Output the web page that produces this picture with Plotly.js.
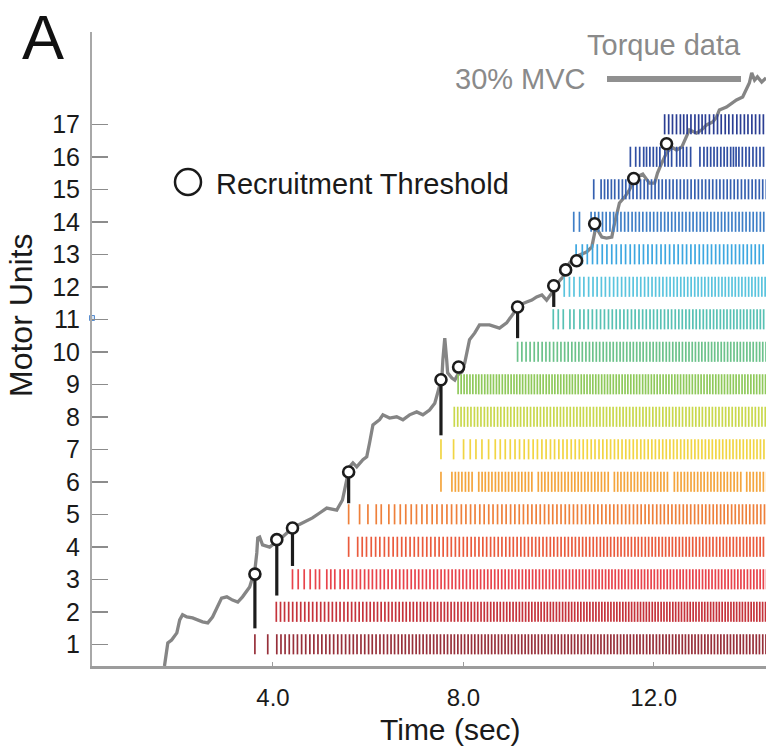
<!DOCTYPE html>
<html><head><meta charset="utf-8">
<script src="https://cdn.plot.ly/plotly-3.0.1.min.js"></script>
<style>html,body{margin:0;padding:0;background:#fff}#chart{width:766px;height:748px}</style>
</head><body><div id="chart"></div>
<script>
// ---------- DATA ----------
const unitLabels = [1,2,3,4,5,6,7,8,9,10,11,12,13,14,15,16,17];
// time (s) of first discharge of each motor unit
const unitStart = [3.62,4.07,4.41,5.59,5.59,7.53,7.53,7.81,7.89,9.14,9.89,10.12,10.37,10.32,10.74,11.51,12.23];
// inter-spike intervals (ms) per motor unit, read from the raster
const isiU1 = [270,190,88,86,88,87,85,88,86,87, 84,86,82,85,80,83,86,81,84,82, 80,78,83,79,81,77,80,82,78,79, 76,74,78,75,73,77,74,76,72,75, 74,72,75,71,73,76,72,74,70,73, 72,70,74,71,69,73,70,72,68,71, 70,72,69,71,68,70,73,69,71,70, 69,71,68,70,72,67,70,69,71,68, 70,68,71,69,67,70,72,68,69,70, 68,70,67,69,71,68,66,70,69,67, 69,67,70,68,66,69,71,67,68,70, 67,69,68,66,70,68,67,69,66,68, 68,66,69,67,70,66,68,67,69,66, 67,69,66,68,67,70,66,68,67,69, 68,66,70,67];
const isiU2 = [88,85,87,84,86,83,85,84,82,86, 83,81,84,80,82,79,83,80,81,78, 80,77,79,76,78,75,77,79,76,74, 76,74,75,73,77,72,74,75,71,73, 72,74,70,73,71,69,72,70,73,71, 70,68,71,69,67,70,68,66,69,67, 68,66,69,67,65,68,66,67,64,67, 66,64,67,65,63,66,64,65,62,65, 64,66,63,65,62,64,66,63,65,62, 63,65,62,64,61,63,65,62,64,61, 62,64,61,63,60,62,64,61,63,60, 61,63,60,62,64,60,62,61,63,60, 62,60,63,61,59,62,60,63,61,60, 61,63,60,62,59,61,63,60,62,59, 60,62,59,61,63,60,58,61,62,60, 61,59];
const isiU3 = [120,126,126,112,84,153,84,84,112,84, 84,90,86,82,88,84,80,85,83,81, 82,80,84,79,81,78,83,80,77,81, 79,77,80,76,78,75,79,77,74,78, 76,74,77,73,75,72,76,74,71,75, 73,75,72,74,70,73,71,74,72,70, 72,70,73,71,69,72,70,68,71,69, 70,72,69,71,68,70,67,71,69,68, 69,67,70,68,66,69,71,67,68,70, 68,70,67,69,66,68,70,67,69,66, 67,69,66,68,70,67,65,68,69,66, 68,66,69,67,65,68,70,66,67,69, 67,69,66,68,65,67,70,66,68,67, 66,68,67];
const isiU4 = [190,95,90,100,92,88,96,90,94,88, 92,86,90,88,85,91,87,84,89,86, 85,88,83,86,82,85,81,84,80,83, 82,80,83,79,81,78,82,80,77,80, 79,77,80,76,78,75,79,76,78,74, 77,75,78,74,76,73,77,75,72,76, 75,73,76,72,74,71,75,73,70,74, 73,71,74,70,72,75,71,73,70,72, 72,70,73,69,71,74,70,72,69,71, 71,73,70,72,69,71,74,70,72,69, 70,72,69,71,73,70,68,72,70,71, 69,72];
const isiU5 = [230,175,175,105,160,120,120,115,115,110, 115,105,110,100,108,102,98,105,100,96, 98,94,100,92,96,90,95,92,88,94, 90,92,88,91,87,89,86,90,88,85, 88,86,89,85,87,84,88,86,83,87, 85,83,86,82,84,81,85,83,80,84, 82,80,83,79,81,84,80,78,82,79, 80,78,81,77,79,82,78,80,76,79, 78,76,79,75,77,80,76,78,74,77, 76,78,75,77,79,76];
const isiU6 = [230,72,68,70,74,69,71,140,70,67, 71,69,73,68,70,72,67,71,69,70, 68,72,70,69,135,71,68,70,73,69, 70,68,71,69,72,67,70,68,71,69, 72,70,68,71,69,73,130,70,68,71, 69,72,70,68,71,69,67,70,72,69, 70,68,71,145,69,72,70,68,71,69, 71,69,68,72,70,67,71,69,70,68, 70,72,69,71,125,68,70,72,69,71, 70];
const isiU7 = [265,210,140,120,126,140,140,105,105,105, 100,95,98,92,96,90,94,88,92,86, 90,87,85,88,84,86,82,85,83,80, 84,81,83,79,82,78,81,79,77,80, 78,80,76,79,77,75,78,76,74,77, 76,74,77,75,73,76,74,72,75,73, 74,72,75,73,71,74,72,70,73,71, 72,74,71,73,70,72,74,71];
const isiU8 = [72,70,68,71,69,73,67,70,72,68, 70,69,71,67,72,70,68,71,69,66, 71,68,70,72,67,69,71,68,70,73, 68,70,67,71,69,72,68,70,66,69, 70,72,68,69,71,67,70,68,72,69, 69,67,71,70,68,72,69,67,70,71, 68,70,72,69,67,71,68,70,69,72, 70,68,69,71,67,70,72,68,69,70, 71,69,68,70,72,67,69,71,68,70, 69,71,68,70,71];
const isiU9 = [64,62,60,63,61,65,59,62,64,60, 62,61,63,59,64,62,60,63,61,58, 63,60,62,64,59,61,63,60,62,65, 60,62,59,63,61,64,60,62,58,61, 62,64,60,61,63,59,62,60,64,61, 61,59,63,62,60,64,61,59,62,63, 60,62,64,61,59,63,60,62,61,64, 62,60,61,63,59,62,64,60,61,62, 63,61,60,62,64,59,61,63,60,62, 61,63,60,62,59,61,64,60,62,63, 62,60,63,61,62,60];
const isiU10 = [90,88,85,87,82,84,80,78,82,79, 76,78,74,77,73,75,72,76,74,71, 73,71,74,70,72,69,73,71,68,72, 70,68,71,69,67,70,72,68,69,66, 69,71,67,70,68,66,69,71,67,68, 67,69,66,68,70,67,65,68,69,66, 68,66,69,67,65,68,70,66,67,69, 67,65,68];
const isiU11 = [105,105,140,84,126,84,91,86,88,84, 82,85,80,83,79,82,78,81,77,80, 78,76,79,75,77,74,78,76,73,77, 75,73,76,72,74,71,75,73,70,74, 72,70,73,71,69,72,70,68,71,69, 70,72,69,71,68,70,71];
const isiU12 = [110,95,120,88,100,92,86,90,84,88, 85,82,86,80,83,79,82,78,81,77, 79,76,78,75,77,74,76,73,75,72, 74,72,75,71,73,70,74,72,69,73, 71,69,72,70,68,71,69,72,70,68, 70,68,71,69,70];
const isiU13 = [130,105,110,100,104,98,102,96,100,94, 98,92,96,90,94,88,92,95,89,91, 93,88,90,86,91,87,89,85,88,84, 87,83,86,82,85,81,84,80,83,86, 82,85,81,84,80];
const isiU14 = [120,245,80,78,82,76,80,77,79,75, 78,76,80,74,77,75,79,73,76,78, 75,77,73,76,74,78,72,75,77,73, 76,74,72,75,77,73,76,74,71,75, 73,76,74,72,75,77,73,74,76,72, 75];
const isiU15 = [155,72,70,74,70,84,77,72,78,75, 80,76,78,74,79,75,77,73,78,76, 74,78,75,77,73,76,79,74,77,75, 76,74,78,73,77,75,72,76,74,78, 75,73,77,74,76,72,75];
const isiU16 = [112,84,84,60,70,72,70,68,105,70, 72,105,70,68,72,84,196,84,70,72, 70,68,74,70,66,72,58,55,60,72, 75,70,78,72,76,74,72];
const isiU17 = [85,80,84,82,70,72,80,84,78,72, 70,84,90,80,78,84,76,82,86,78, 80,76,82,78,84,80,82];
const unitISI = [isiU1,isiU2,isiU3,isiU4,isiU5,isiU6,isiU7,isiU8,isiU9,isiU10,isiU11,isiU12,isiU13,isiU14,isiU15,isiU16,isiU17];
const unitColors = ['#97303a','#c5333b','#e8434b','#ea5b3d','#ee803b','#f4a53d','#f1d543','#c9d84c','#8fc95b','#6cc28b','#57c1b4','#5ac4de','#3da7e0','#3f7fc7','#3560b0','#2f4ea2','#2b3e93'];

// torque trace (level expressed in motor-unit axis units)
const torqueTime = [1.72,1.75,1.79,1.87,1.98,2.04,2.10,2.19,2.31,2.52,2.63,2.73,2.84,2.92,3.03,3.15,3.26,3.36,3.51,3.55,3.62,3.66,3.68,3.72,3.78,3.93,4.08,4.20,4.41,4.62,4.83,4.98,5.13,5.34,5.46,5.55,5.61,5.68,5.76,5.89,5.97,6.03,6.07,6.10,6.24,6.31,6.45,6.60,6.73,6.87,7.02,7.15,7.29,7.40,7.46,7.55,7.57,7.61,7.65,7.67,7.76,7.82,7.88,7.97,8.03,8.13,8.24,8.34,8.55,8.76,8.91,9.02,9.10,9.18,9.33,9.44,9.54,9.65,9.75,9.86,9.92,9.98,10.09,10.17,10.23,10.34,10.44,10.59,10.70,10.76,10.78,10.82,10.91,11.01,11.12,11.16,11.22,11.28,11.39,11.49,11.56,11.64,11.77,11.91,12.02,12.08,12.17,12.27,12.38,12.48,12.59,12.69,12.75,12.90,13.01,13.11,13.24,13.32,13.38,13.53,13.66,13.74,13.87,13.95,14.01,14.06,14.12,14.18,14.27,14.36];
const torqueLevel = [0.33,0.67,1.04,1.13,1.35,1.75,1.91,1.84,1.81,1.69,1.66,1.84,2.15,2.42,2.46,2.36,2.30,2.46,2.76,2.98,3.29,3.81,4.27,4.30,4.06,3.99,4.15,4.30,4.58,4.73,4.89,5.04,5.19,5.13,5.44,6.06,6.46,6.58,6.46,6.68,6.77,7.20,7.60,7.75,7.91,8.06,7.96,8.00,7.91,8.06,8.15,8.06,8.21,8.42,8.73,9.22,9.75,10.42,9.75,9.35,9.19,9.13,9.29,9.38,9.66,10.37,10.58,10.83,10.83,10.73,10.89,11.13,11.29,11.44,11.53,11.59,11.69,11.75,11.59,11.81,12.06,12.12,12.30,12.58,12.73,12.89,12.98,13.07,13.23,13.66,13.96,13.75,13.53,13.50,13.53,13.84,14.27,14.58,14.76,14.98,15.19,15.38,15.47,15.19,15.19,15.50,15.81,16.12,16.30,16.21,16.30,16.61,16.83,16.73,16.83,16.98,17.07,17.22,17.44,17.53,17.66,17.75,17.84,18.06,18.27,18.58,18.36,18.46,18.30,18.43];

// recruitment thresholds (circle positions) and stem bottoms
const thrTime  = [3.62,4.08,4.41,5.59,7.53,7.90,9.14,9.90,10.15,10.38,10.76,11.58,12.27];
const thrLevel = [3.16,4.22,4.58,6.30,9.14,9.53,11.38,12.03,12.52,12.80,13.94,15.33,16.40];
const stemBottom = [1.49,2.50,3.41,5.34,7.43,null,10.42,11.38,null,null,null,null,null];

const xTickVals = [4,8,12];
const xTickText = ['4.0','8.0','12.0'];
const markerX = [0.197], markerY = [11.04];

// ---------- BUILD ----------
const FONT = 'Liberation Sans, Arial, Helvetica, sans-serif';
const W = 766, H = 748, ML = 92, MR = 0, MT = 32, MB = 82;
const PW = W - ML - MR, PH = H - MT - MB;
const px = x => (x - ML) / PW;          // pixel -> paper x
const py = y => (H - MB - y) / PH;      // pixel -> paper y

const traces = [];
traces.push({x: torqueTime, y: torqueLevel, mode:'lines', line:{color:'#858585', width:3.3}, hoverinfo:'skip'});

const half = 0.31;
unitLabels.forEach((u, i) => {
  const xs = [], ys = [];
  let t = unitStart[i];
  const isi = unitISI[i];
  for (let k = 0; k <= isi.length; k++) {
    xs.push(t, t, null); ys.push(u - half, u + half, null);
    if (k < isi.length) t += isi[k] / 1000;
  }
  traces.push({x: xs, y: ys, mode:'lines', line:{color: unitColors[i], width:1.7}, hoverinfo:'skip'});
});

const sx = [], sy = [];
thrTime.forEach((t, i) => { if (stemBottom[i] !== null) { sx.push(t, t, null); sy.push(thrLevel[i], stemBottom[i], null); } });
traces.push({x: sx, y: sy, mode:'lines', line:{color:'#1c1c1c', width:3.2}, hoverinfo:'skip'});
traces.push({x: thrTime, y: thrLevel, mode:'markers', marker:{size:11, color:'#ffffff', line:{color:'#1c1c1c', width:2.6}}, name:'Recruitment Threshold'});
traces.push({x: markerX, y: markerY, mode:'markers', cliponaxis:false, marker:{symbol:'square', size:5, color:'#d6e4f5', line:{color:'#5a8fd0', width:1}}, hoverinfo:'skip'});

const layout = {
  width: W, height: H,
  margin: {l: ML, r: MR, t: MT, b: MB},
  paper_bgcolor: '#ffffff', plot_bgcolor: '#ffffff',
  showlegend: false,
  font: {family: FONT, color: '#1a1a1a'},
  xaxis: {
    range: [0.197, 14.36], showgrid: false, zeroline: false,
    showline: true, linecolor: '#9c9c9c', linewidth: 3,
    tickmode: 'array', tickvals: xTickVals, ticktext: xTickText,
    ticks: 'inside', ticklen: 4, tickwidth: 1, tickcolor: '#9c9c9c',
    tickfont: {size: 24, color: '#1a1a1a', family: FONT}, ticklabelstandoff: 8
  },
  yaxis: {
    range: [0.332, 19.84], showgrid: false, zeroline: false,
    showline: true, linecolor: '#a8a8a8', linewidth: 2,
    tickmode: 'array', tickvals: unitLabels,
    ticks: 'inside', ticklen: 16, tickwidth: 1.5, tickcolor: '#8c8c8c',
    tickfont: {size: 25, color: '#1a1a1a', family: FONT}, ticklabelstandoff: 5
  },
  shapes: [
    {type:'line', xref:'paper', yref:'paper', x0:px(607), x1:px(741), y0:py(79), y1:py(79), line:{color:'#909090', width:6}},
    {type:'circle', xref:'paper', yref:'paper', xsizemode:'pixel', ysizemode:'pixel', xanchor:px(188), yanchor:py(182), x0:-13, x1:13, y0:-13, y1:13, line:{color:'#1a1a1a', width:2.5}, fillcolor:'#ffffff'}
  ],
  annotations: [
    {text:'A', xref:'paper', yref:'paper', x:px(43), y:py(0), xanchor:'center', yanchor:'top', showarrow:false, font:{size:63, color:'#111111', family:FONT}},
    {text:'Torque data', xref:'paper', yref:'paper', x:px(664), y:py(45), xanchor:'center', yanchor:'middle', showarrow:false, font:{size:29, color:'#8a8a8a', family:FONT}},
    {text:'30% MVC', xref:'paper', yref:'paper', x:px(588), y:py(79), xanchor:'right', yanchor:'middle', showarrow:false, font:{size:29, color:'#8a8a8a', family:FONT}},
    {text:'Recruitment Threshold', xref:'paper', yref:'paper', x:px(214), y:py(184), xanchor:'left', yanchor:'middle', showarrow:false, font:{size:29, color:'#1a1a1a', family:FONT}},
    {text:'Time (sec)', xref:'paper', yref:'paper', x:px(523), y:py(748), xanchor:'right', yanchor:'bottom', showarrow:false, font:{size:30, color:'#1a1a1a', family:FONT}},
    {text:'Motor Units', xref:'paper', yref:'paper', x:px(21), y:py(315), xanchor:'center', yanchor:'middle', textangle:-90, showarrow:false, font:{size:32, color:'#1a1a1a', family:FONT}}
  ]
};
Plotly.newPlot('chart', traces, layout, {displayModeBar: false, staticPlot: true});
</script></body></html>
